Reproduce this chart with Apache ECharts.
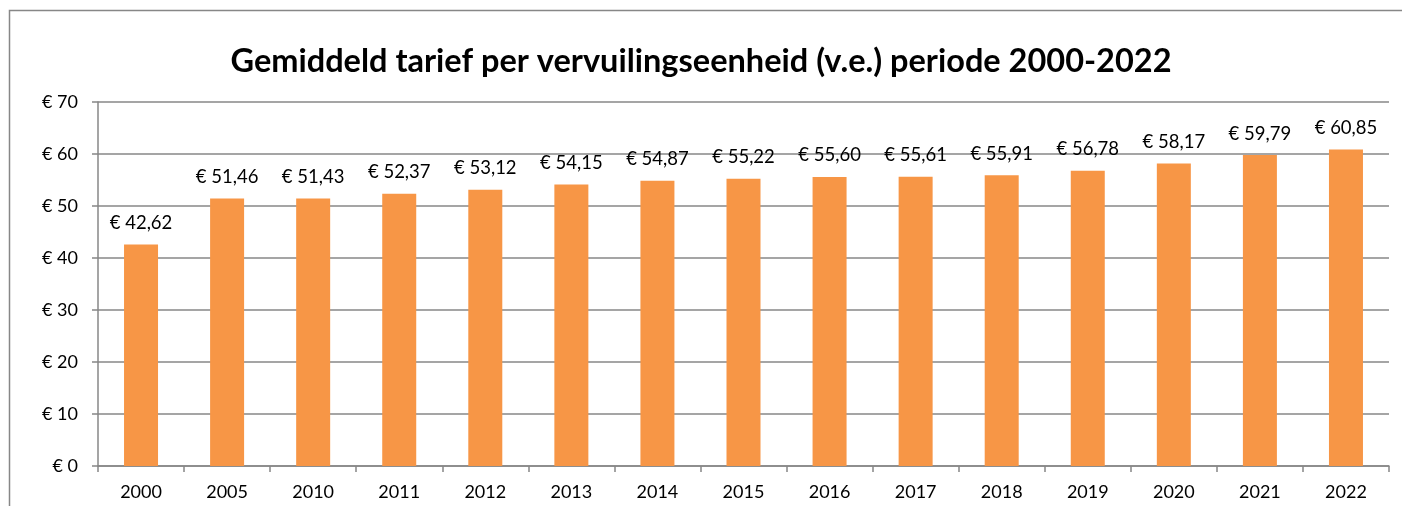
<!DOCTYPE html>
<html><head><meta charset="utf-8">
<script src="https://cdn.jsdelivr.net/npm/echarts@6/dist/echarts.min.js"></script>
<style>html,body{margin:0;padding:0;background:#fff}#c{width:1402px;height:506px}</style>
</head><body><div id="c"></div>
<script>
const title = 'Gemiddeld tarief per vervuilingseenheid (v.e.) periode 2000-2022';
const categories = ['2000','2005','2010','2011','2012','2013','2014','2015','2016','2017','2018','2019','2020','2021','2022'];
const values = [42.62,51.46,51.43,52.37,53.12,54.15,54.87,55.22,55.60,55.61,55.91,56.78,58.17,59.79,60.85];
const yTicks = [0,10,20,30,40,50,60,70];

const FONT = 'Lato';
const chart = echarts.init(document.getElementById('c'), null, {renderer:'canvas'});
chart.setOption({
  animation:false,
  backgroundColor:'#fff',
  title:{text:title,left:'center',top:40,textStyle:{fontFamily:FONT,fontWeight:'bold',fontSize:32.5,color:'#000'}},
  graphic:[{type:'polyline',shape:{points:[[9.5,506],[9.5,10.5],[1402,10.5]]},style:{stroke:'#878787',lineWidth:1.5,fill:null},silent:true}],
  grid:{left:98,right:13,top:102,bottom:40,containLabel:false},
  xAxis:{type:'category',data:categories,boundaryGap:true,
    axisLine:{lineStyle:{color:'#878787',width:1.5}},
    axisTick:{show:true,length:6,lineStyle:{color:'#878787',width:1.5},alignWithLabel:false},
    axisLabel:{fontFamily:FONT,fontSize:18,color:'#000',margin:17}},
  yAxis:{type:'value',min:0,max:70,interval:10,
    axisLine:{show:true,lineStyle:{color:'#878787',width:1.5}},
    axisTick:{show:true,length:6,lineStyle:{color:'#878787',width:1.5}},
    splitLine:{lineStyle:{color:'#878787',width:1.5}},
    axisLabel:{fontFamily:FONT,fontSize:18,color:'#000',margin:20,formatter:v=>'€ '+v}},
  series:[{type:'bar',data:values,barWidth:34,itemStyle:{color:'#F79646'},
    label:{show:true,position:'top',distance:12,fontFamily:FONT,fontSize:18.5,color:'#000',
      formatter:p=>'€ '+p.value.toFixed(2).replace('.',',')}}]
});
</script></body></html>
